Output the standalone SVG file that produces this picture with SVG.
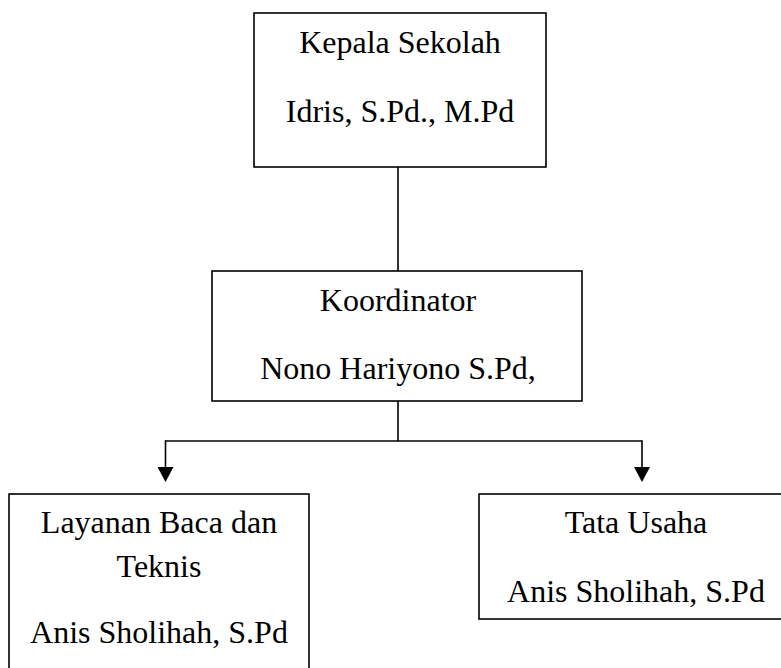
<svg xmlns="http://www.w3.org/2000/svg" width="781" height="668" viewBox="0 0 781 668">
<style>
.box{fill:#fff;stroke:#000;stroke-width:1.6}
.t{font-family:"Liberation Serif","Times New Roman",serif;font-size:32px;fill:#000;text-anchor:middle}
.c{fill:none;stroke:#000;stroke-width:1.6}
</style>
<defs>
<marker id="ah" markerWidth="16" markerHeight="16" refX="8" refY="15" viewBox="0 0 16 16" markerUnits="userSpaceOnUse" orient="auto-start-reverse">
<path d="M0,0 L16,0 L8,15 Z" fill="#000"/>
</marker>
</defs>
<rect width="781" height="668" fill="#fff"/>
<g id="connectors">
<line class="c" x1="398" y1="167" x2="398" y2="271"/>
<line class="c" x1="398" y1="401" x2="398" y2="441"/>
<line class="c" x1="165.5" y1="441" x2="642" y2="441"/>
<line class="c" x1="165.5" y1="440.2" x2="165.5" y2="467"/>
<line class="c" x1="642" y1="440.2" x2="642" y2="467"/>
<path d="M157.5,467 L173.5,467 L165.5,482 Z" fill="#000"/>
<path d="M634,467 L650,467 L642,482 Z" fill="#000"/>
</g>
<g id="kepala">
<rect class="box" x="254" y="13" width="292" height="154"/>
<text class="t" x="400" y="53">Kepala Sekolah</text>
<text class="t" x="400" y="122">Idris, S.Pd., M.Pd</text>
</g>
<g id="koordinator">
<rect class="box" x="212" y="271" width="370" height="130"/>
<text class="t" x="398" y="311">Koordinator</text>
<text class="t" x="398" y="379">Nono Hariyono S.Pd,</text>
</g>
<g id="layanan">
<rect class="box" x="9" y="494" width="300" height="190"/>
<text class="t" x="159" y="533">Layanan Baca dan</text>
<text class="t" x="159" y="577">Teknis</text>
<text class="t" x="159" y="643">Anis Sholihah, S.Pd</text>
</g>
<g id="tatausaha">
<rect class="box" x="479" y="494" width="314" height="125"/>
<text class="t" x="636" y="533">Tata Usaha</text>
<text class="t" x="636" y="602">Anis Sholihah, S.Pd</text>
</g>
</svg>
